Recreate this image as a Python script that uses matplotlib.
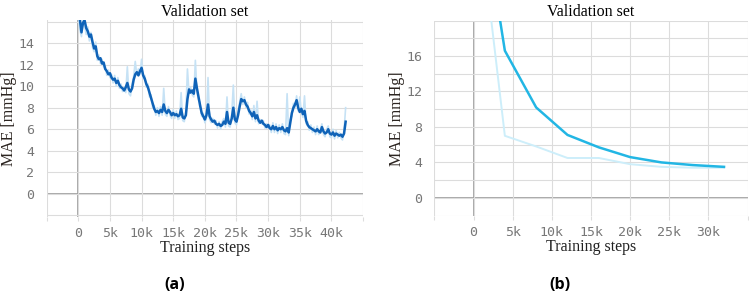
import numpy as np
import matplotlib
matplotlib.use('Agg')
import matplotlib.pyplot as plt

# panel (a): validation MAE, steps in thousands (every 250 steps)
steps_a_k = np.arange(0, 42.26, 0.25)
mae_a_smooth = [
    17.0, 16.2, 15.0, 15.9, 16.1, 15.4, 15.1, 14.6, 14.8, 14.1, 13.5, 13.7,
    12.8, 12.5, 12.6, 12.1, 12.2, 11.6, 11.4, 11.1, 11.2, 10.8, 10.6, 10.7,
    10.3, 10.5, 10.1, 9.9, 9.8, 9.6, 9.9, 10.3, 9.7, 9.5, 9.8, 10.6,
    11.1, 11.3, 11.0, 11.4, 11.7, 11.0, 10.7, 10.2, 9.9, 9.4, 8.9, 8.4,
    7.9, 7.6, 7.7, 7.5, 7.8, 7.6, 8.3, 7.7, 7.5, 7.8, 7.6, 7.3,
    7.5, 7.3, 7.4, 7.2, 7.3, 7.9, 7.1, 7.0, 7.3, 8.8, 9.7, 9.4,
    9.6, 9.3, 10.7, 9.8, 9.0, 8.2, 7.5, 7.2, 6.9, 7.3, 8.3, 7.2,
    6.9, 6.7, 6.8, 6.5, 6.4, 6.5, 6.3, 6.4, 6.7, 6.5, 7.6, 6.6,
    6.5, 7.0, 8.0, 6.9, 6.7, 7.3, 8.1, 8.8, 8.6, 8.7, 8.3, 8.1,
    7.7, 7.5, 7.2, 7.6, 7.0, 7.3, 6.8, 6.6, 6.8, 6.5, 6.4, 6.2,
    6.4, 6.1, 6.0, 6.3, 6.0, 6.2, 5.9, 6.1, 6.0, 6.2, 5.9, 5.8,
    6.1, 5.7, 6.6, 7.5, 8.0, 8.3, 8.7, 8.0, 7.6, 7.9, 7.4, 7.7,
    6.8, 6.4, 6.2, 6.1, 6.0, 5.9, 5.8, 6.0, 5.8, 5.7, 6.2, 5.8,
    5.6, 5.7, 6.0, 5.6, 5.5, 5.7, 5.4, 5.6, 5.5, 5.4, 5.5, 5.3,
    5.6, 6.7,
]
mae_a_raw = [
    16.5, 15.2, 14.6, 16.4, 15.6, 14.8, 15.5, 14.2, 15.0, 13.6, 13.2, 14.1,
    12.4, 12.9, 12.1, 12.5, 11.8, 11.9, 11.0, 11.5, 10.8, 11.1, 10.3, 11.0,
    10.0, 10.8, 9.8, 10.2, 9.5, 9.9, 9.4, 11.8, 9.3, 9.1, 10.2, 10.9,
    12.3, 11.0, 11.6, 11.1, 12.5, 10.7, 11.0, 9.9, 10.2, 9.0, 9.2, 8.0,
    8.2, 7.3, 8.0, 7.2, 8.1, 7.3, 9.8, 7.4, 7.2, 8.1, 7.3, 7.0,
    7.8, 7.0, 7.7, 6.9, 7.0, 9.4, 6.8, 6.7, 7.6, 11.6, 9.3, 9.9,
    9.2, 9.0, 12.4, 9.5, 8.7, 8.5, 7.2, 7.5, 6.6, 7.0, 10.8, 6.9,
    6.6, 7.0, 6.5, 6.8, 6.1, 6.7, 6.0, 6.7, 7.0, 6.2, 9.0, 6.3,
    6.2, 7.4, 10.1, 6.6, 6.4, 7.7, 8.5, 9.3, 8.3, 9.0, 8.0, 8.5,
    7.4, 7.8, 6.9, 8.2, 6.7, 8.6, 6.5, 6.9, 6.5, 6.8, 6.1, 6.5,
    6.1, 6.4, 5.7, 6.6, 5.7, 6.5, 5.6, 6.4, 5.7, 6.5, 5.6, 5.5,
    9.3, 5.4, 6.9, 7.2, 8.4, 8.0, 9.1, 7.7, 9.0, 7.6, 7.1, 9.1,
    6.5, 6.7, 5.9, 6.4, 5.7, 6.2, 5.5, 6.3, 5.5, 6.0, 6.5, 5.5,
    5.3, 6.0, 6.3, 5.3, 5.2, 6.0, 5.1, 5.9, 5.2, 5.7, 5.2, 5.0,
    5.9, 8.0,
]

# panel (b)
steps_b = [0, 4000, 8000, 12000, 16000, 20000, 24000, 28000, 32000]
mae_b_smooth = [39, 16.6, 10.2, 7.1, 5.7, 4.6, 4.0, 3.7, 3.5]
mae_b_raw = [37, 7.0, 5.8, 4.5, 4.5, 3.8, 3.5, 3.4, 3.4]

serif = ['Liberation Serif', 'DejaVu Serif']
mono = 'DejaVu Sans Mono'


def style_axes(ax, xgrid, xlabels, ygrid, ylabels, xlim, ylim, ylab_x):
    for s in ax.spines.values():
        s.set_visible(False)
    ax.set_xlim(xlim)
    ax.set_ylim(ylim)
    ax.set_xticks(xgrid)
    ax.set_xticklabels(xlabels, fontfamily=mono, fontsize=9.5, color='#777777')
    ax.set_yticks(ygrid)
    ax.set_yticklabels(ylabels, fontfamily=mono, fontsize=9.5, color='#777777')
    ax.tick_params(axis='x', length=3, color='#dddddd', pad=4)
    ax.tick_params(axis='y', length=0, pad=9)
    ax.grid(True, color='#dcdcdc', lw=0.8)
    ax.axhline(0, color='#999999', lw=1.2, zorder=1)
    ax.axvline(0, color='#999999', lw=1.2, zorder=1)
    ax.set_title('Validation set', fontfamily=serif, fontsize=11.5, pad=3)
    ax.set_xlabel('Training steps', fontfamily=serif, fontsize=11.5, color='#222222', labelpad=0.5)
    ax.set_ylabel('MAE [mmHg]', fontfamily=serif, fontsize=11.5, color='#2b2420')
    ax.yaxis.set_label_coords(ylab_x, 0.5)


fig = plt.figure(figsize=(7.49, 2.98), dpi=100)

ax1 = fig.add_axes([0.0623, 0.272, 0.4224, 0.661])
x_a = steps_a_k * 1000
ax1.plot(x_a, mae_a_raw, color='#c6e2f5', lw=1.2, zorder=2)
ax1.plot(x_a, mae_a_smooth, color='#0f63b8', lw=1.8, zorder=3)
xg = np.arange(-5000, 45001, 5000)
xl = [''] + ['0'] + ['%dk' % (v // 1000) for v in xg[2:-1]] + ['']
yg = np.arange(-2, 17, 2)
yl = [''] + [str(v) for v in yg[1:-1]] + ['']
style_axes(ax1, xg, xl, yg, yl, (-5000, 45000), (-2.15, 16.15), -0.093)

ax2 = fig.add_axes([0.580, 0.275, 0.418, 0.656])
ax2.plot(steps_b, mae_b_raw, color='#cdeefa', lw=1.4, zorder=2)
ax2.plot(steps_b, mae_b_smooth, color='#22b6e4', lw=1.8, zorder=3)
xg2 = np.arange(-5000, 35001, 5000)
xl2 = [''] + ['0'] + ['%dk' % (v // 1000) for v in xg2[2:-1]] + ['']
yg2 = np.arange(-2, 21, 2)
yl2 = [str(v) if (v >= 0 and v % 4 == 0 and v < 20) else '' for v in yg2]
style_axes(ax2, xg2, xl2, yg2, yl2, (-5000, 35000), (-2.05, 20.0), -0.093)

fig.text(175 / 749, 1 - 285 / 298, '(a)', ha='center', va='center',
         fontsize=11.5, fontweight='bold', fontfamily='Open Sans')
fig.text(560 / 749, 1 - 285 / 298, '(b)', ha='center', va='center',
         fontsize=11.5, fontweight='bold', fontfamily='Open Sans')

fig.savefig('out.png', dpi=100)
